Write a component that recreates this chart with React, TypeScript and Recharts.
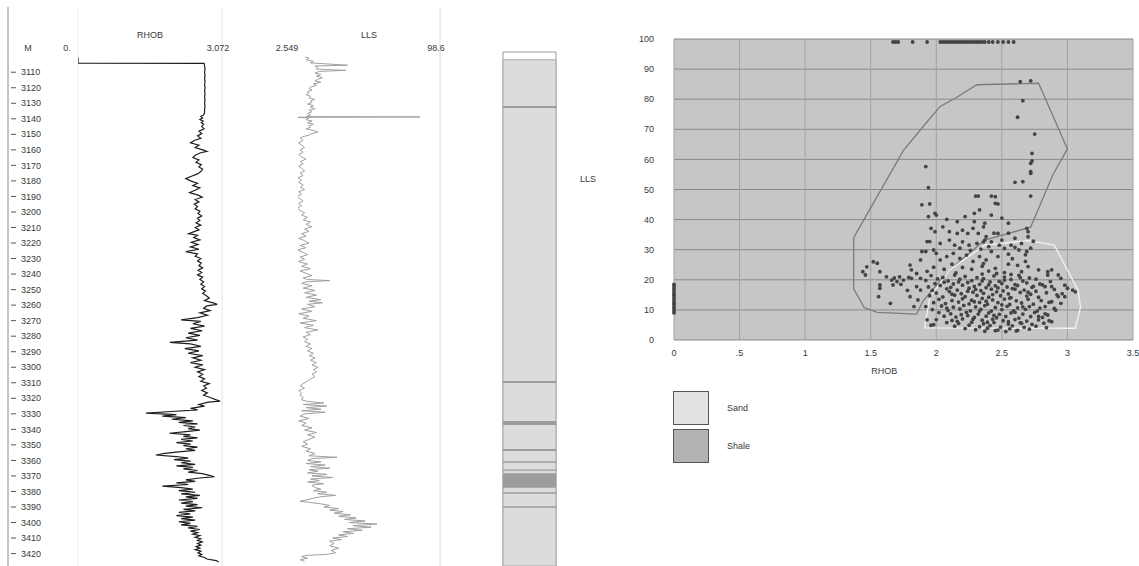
import React from 'react';
import {
  ScatterChart,
  Scatter,
  XAxis,
  YAxis,
  CartesianGrid,
  ReferenceArea,
  ReferenceLine,
} from 'recharts';

const FONT = '"Liberation Sans", Arial, sans-serif';
const TXT = '#3a3a3a';

// ---- depth window shared by every log track ----
const depthDomain: [number, number] = [3068, 3428];
const depthTicks = [
  3110, 3120, 3130, 3140, 3150, 3160, 3170, 3180, 3190, 3200, 3210, 3220, 3230, 3240, 3250, 3260,
  3270, 3280, 3290, 3300, 3310, 3320, 3330, 3340, 3350, 3360, 3370, 3380, 3390, 3400, 3410, 3420,
];

// ---- RHOB log: [depth m, g/cc] ----
const rhobRange: [number, number] = [0, 3.072];
const rhobLog: [number, number][] = [
  [3100.5, 0], [3104.2, 0], [3104.3, 2.69], [3106, 2.7], [3108, 2.71], [3110, 2.7], [3112, 2.71], [3114, 2.7],
  [3116, 2.71], [3118, 2.7], [3120, 2.71], [3122, 2.7], [3124, 2.71], [3126, 2.7], [3128, 2.71], [3130, 2.7],
  [3132, 2.71], [3134, 2.7], [3136, 2.7], [3137.5, 2.68], [3138.5, 2.62], [3139.5, 2.66], [3140.5, 2.6],
  [3141.5, 2.67], [3142.5, 2.63], [3143.5, 2.68], [3145, 2.64], [3146.5, 2.69], [3148, 2.58], [3149.5, 2.64],
  [3151, 2.55], [3152.5, 2.62], [3154, 2.48], [3155.5, 2.4], [3157, 2.58], [3158.5, 2.5], [3160, 2.66],
  [3161, 2.75], [3162, 2.6], [3163.5, 2.5], [3165, 2.45], [3166.5, 2.58], [3168, 2.52], [3169.5, 2.63],
  [3171, 2.58], [3172.5, 2.66], [3174, 2.62], [3175.5, 2.55], [3177, 2.42], [3178.5, 2.3], [3180, 2.4],
  [3181.5, 2.55], [3183, 2.45], [3184.5, 2.6], [3186, 2.5], [3187.5, 2.38], [3189, 2.55], [3190.5, 2.65],
  [3192, 2.5], [3193.5, 2.58], [3195, 2.48], [3196.5, 2.55], [3198, 2.5], [3199.5, 2.6], [3201, 2.56],
  [3202.5, 2.64], [3204, 2.55], [3205.5, 2.6], [3207, 2.52], [3208.5, 2.62], [3210, 2.5], [3211.5, 2.58],
  [3213, 2.45], [3214, 2.36], [3215, 2.55], [3216.5, 2.47], [3218, 2.6], [3219.5, 2.42], [3221, 2.56],
  [3222.5, 2.4], [3224, 2.58], [3225.5, 2.3], [3227, 2.55], [3228.5, 2.5], [3230, 2.62], [3231.5, 2.55],
  [3233, 2.63], [3234.5, 2.58], [3236, 2.66], [3237.5, 2.56], [3239, 2.64], [3240.5, 2.55], [3242, 2.66],
  [3243.5, 2.6], [3245, 2.68], [3246.5, 2.62], [3248, 2.7], [3249.5, 2.64], [3251, 2.72], [3252.5, 2.66],
  [3254, 2.74], [3255.5, 2.8], [3257, 2.7], [3258.5, 2.88], [3259.5, 2.97], [3260.5, 2.75], [3262, 2.68],
  [3263.5, 2.82], [3265, 2.6], [3266.5, 2.76], [3268, 2.55], [3269.5, 2.2], [3270.5, 2.62], [3272, 2.45],
  [3273.5, 2.7], [3275, 2.4], [3276.5, 2.65], [3278, 2.35], [3279.5, 2.6], [3281, 2.3], [3282.5, 2.55],
  [3284, 1.96], [3285, 2.4], [3286.5, 2.62], [3288, 2.28], [3289.5, 2.58], [3291, 2.35], [3292.5, 2.66],
  [3294, 2.45], [3295.5, 2.62], [3297, 2.4], [3298.5, 2.66], [3300, 2.5], [3301.5, 2.7], [3303, 2.55],
  [3304.5, 2.66], [3306, 2.58], [3307.5, 2.7], [3309, 2.62], [3310.5, 2.8], [3312, 2.68], [3313.5, 2.74],
  [3315, 2.64], [3316.5, 2.76], [3318, 2.68], [3319.5, 2.82], [3321, 2.95], [3321.8, 3.03], [3322.5, 2.78],
  [3324, 2.58], [3325, 2.7], [3326.5, 2.4], [3327.5, 2.55], [3328.5, 2.0], [3329.5, 1.45], [3330.5, 2.1],
  [3331.5, 1.8], [3332.5, 2.3], [3333.5, 2.0], [3334.5, 2.45], [3335.5, 2.15], [3336.5, 2.55], [3337.5, 2.25],
  [3338.5, 2.5], [3339.5, 2.35], [3340.5, 2.6], [3341.5, 2.3], [3342.5, 1.95], [3343.5, 2.4], [3344.5, 2.25],
  [3345.5, 2.55], [3346.5, 2.2], [3347.5, 2.45], [3348.5, 2.1], [3349.5, 2.4], [3350.5, 2.25], [3351.5, 2.55],
  [3352.5, 2.3], [3353.5, 2.5], [3354.5, 2.15], [3355.5, 1.85], [3356.5, 1.66], [3357.5, 2.1], [3358.5, 2.35],
  [3359.5, 2.05], [3360.5, 2.4], [3361.5, 2.2], [3362.5, 2.5], [3363.5, 2.1], [3364.5, 2.45], [3365.5, 2.25],
  [3366.5, 2.55], [3367.5, 2.35], [3368.5, 2.65], [3369.5, 2.78], [3370.5, 2.91], [3371.5, 2.55],
  [3372.5, 2.3], [3373.5, 2.5], [3374.5, 2.1], [3375.5, 2.35], [3376.5, 1.8], [3377.5, 2.2], [3378.5, 2.45],
  [3379.5, 2.15], [3380.5, 2.5], [3381.5, 2.2], [3382.5, 2.6], [3383.5, 2.3], [3384.5, 2.55], [3385.5, 2.15],
  [3386.5, 2.45], [3387.5, 2.2], [3388.5, 2.55], [3389.5, 2.3], [3390.5, 2.65], [3391.5, 2.25], [3392.5, 2.5],
  [3393.5, 2.15], [3394.5, 2.4], [3395.5, 2.1], [3396.5, 2.45], [3397.5, 2.2], [3398.5, 2.5], [3399.5, 2.15],
  [3400.5, 2.4], [3401.5, 2.2], [3402.5, 2.55], [3403.5, 2.35], [3404.5, 2.6], [3405.5, 2.4], [3406.5, 2.55],
  [3407.5, 2.45], [3408.5, 2.6], [3409.5, 2.5], [3410.5, 2.62], [3411.5, 2.55], [3412.5, 2.65], [3413.5, 2.55],
  [3414.5, 2.62], [3415.5, 2.52], [3416.5, 2.6], [3417.5, 2.5], [3418.5, 2.62], [3419.5, 2.56], [3420.5, 2.64],
  [3421.5, 2.58], [3422.5, 2.7], [3423.5, 2.75], [3424.5, 2.95], [3425.5, 3.0],
];

// ---- LLS log: [depth m, ohm.m] ----
const llsRange: [number, number] = [2.549, 98.6];
const llsLog: [number, number][] = [
  [3100.2, 7.3], [3101, 10], [3102, 8], [3103, 13], [3104, 11], [3105.5, 36], [3106, 14], [3107, 16],
  [3108, 15], [3108.8, 35], [3109.5, 17], [3110.5, 14], [3111.5, 18], [3112.5, 15], [3113.5, 19], [3114.5, 16],
  [3115.5, 14], [3116.5, 18], [3117.5, 13], [3118.5, 15], [3119.5, 11], [3120.5, 10], [3121.5, 12], [3122.5, 9],
  [3123.5, 10], [3124.5, 8], [3125.5, 11], [3126.5, 10], [3127.5, 14], [3128.5, 11], [3129.5, 12], [3130.5, 9],
  [3131.5, 13], [3132.5, 11], [3133.5, 14], [3134.5, 10], [3135.5, 12], [3136.5, 9], [3137.5, 11], [3138.6, 8],
  [3138.8, 85], [3139, 2], [3139.5, 10], [3140.5, 8], [3141.5, 12], [3142.5, 9], [3143.5, 13], [3144.5, 10],
  [3145.5, 11], [3146.5, 8], [3147.5, 13], [3148.5, 16], [3149.5, 12], [3150.5, 10], [3151.5, 6], [3152.5, 4],
  [3154, 6], [3155.5, 3], [3157, 5], [3158.5, 7], [3160, 4], [3161.5, 6], [3163, 3], [3164.5, 5], [3166, 8],
  [3167.5, 4], [3169, 6], [3170.5, 3], [3172, 5], [3173.5, 7], [3175, 4], [3176.5, 6], [3178, 2.5],
  [3179.5, 5], [3181, 3], [3182.5, 6], [3184, 4], [3185.5, 7], [3187, 3], [3188.5, 5], [3190, 2], [3191.5, 4],
  [3193, 6], [3194.5, 3], [3196, 5], [3197.5, 2], [3199, 4], [3200.5, 7], [3202, 5], [3203.5, 9], [3205, 6],
  [3206.5, 11], [3208, 8], [3209.5, 12], [3211, 7], [3212.5, 10], [3214, 5], [3215.5, 8], [3217, 3],
  [3218.5, 7], [3220, 10], [3221.5, 4], [3223, 8], [3224.5, 2], [3226, 6], [3227.5, 9], [3229, 4],
  [3230.5, 7], [3232, 3], [3233.5, 9], [3235, 5], [3236.5, 11], [3238, 4], [3239.5, 8], [3241, 12],
  [3242.5, 6], [3243.5, 9], [3244.2, 24], [3245, 8], [3246, 5], [3247.5, 12], [3249, 6], [3250.5, 14],
  [3252, 7], [3253.5, 15], [3255, 8], [3256.5, 18], [3257.5, 10], [3258.5, 19], [3259.5, 9], [3261, 14],
  [3262.5, 5], [3264, 12], [3265.5, 3], [3267, 10], [3268.5, 6], [3270, 15], [3271.5, 4], [3273, 13],
  [3274.5, 7], [3276, 16], [3277.5, 8], [3279, 11], [3280.5, 6], [3282, 9], [3283.5, 7], [3285, 11],
  [3286.5, 8], [3288, 12], [3289.5, 9], [3291, 13], [3292.5, 10], [3294, 14], [3295.5, 11], [3297, 15],
  [3298.5, 12], [3300, 16], [3301.5, 13], [3303, 15], [3304.5, 12], [3306, 14], [3307.5, 11], [3309, 9],
  [3310.5, 6], [3312, 4], [3313.5, 7], [3315, 3], [3316.5, 5], [3318, 4], [3319.5, 6], [3321, 5], [3322, 9],
  [3323, 20], [3324, 6], [3325, 22], [3326, 8], [3327, 18], [3328, 5], [3329, 21], [3330, 7], [3331.5, 4],
  [3333, 10], [3334.5, 3], [3336, 8], [3337.5, 5], [3339, 12], [3340.5, 7], [3342, 15], [3343.5, 9],
  [3345, 14], [3346.5, 10], [3348, 6], [3349.5, 9], [3351, 5], [3352.5, 11], [3354, 8], [3355.5, 14],
  [3357, 10], [3358, 29], [3358.8, 12], [3360, 9], [3361, 18], [3362, 8], [3363, 21], [3364, 11], [3365, 24],
  [3366, 10], [3367, 16], [3368, 9], [3369, 22], [3370, 12], [3371, 26], [3372, 11], [3373, 17], [3374, 9],
  [3375, 20], [3376, 12], [3377.5, 14], [3378.5, 18], [3379.5, 13], [3380.5, 22], [3381.5, 16], [3382.5, 28],
  [3383.5, 17], [3384.5, 12], [3385.5, 8], [3386.3, 4], [3387, 10], [3388, 18], [3389, 24], [3390, 20],
  [3391, 30], [3392, 24], [3393, 33], [3394, 27], [3395, 38], [3396, 30], [3397, 42], [3398, 34], [3399, 48],
  [3400, 37], [3401, 56], [3402, 40], [3403, 52], [3404, 36], [3405, 46], [3406, 33], [3407, 40], [3408, 30],
  [3409, 36], [3410, 26], [3411, 32], [3412, 24], [3413.5, 27], [3415, 24], [3416.5, 30], [3418, 25],
  [3419.5, 28], [3420.5, 22], [3421.2, 8], [3422, 5], [3423, 9], [3424, 4], [3425, 7],
];

// ---- lithology column: depth intervals ----
const lithoTop = 3097;
const lithoSandTop = 3102;
const shaleBeds: [number, number][] = [
  [3131.8, 3133.1], [3308.8, 3310.2], [3334.6, 3337.2], [3352.6, 3354], [3360.5, 3361.5], [3365.8, 3366.7],
  [3368.2, 3377.6], [3380.5, 3381.5], [3389.5, 3390.5],
];

// ---- RHOB / LLS crossplot ----
const xTicks = [0, 0.5, 1, 1.5, 2, 2.5, 3, 3.5];
const yTicks = [0, 10, 20, 30, 40, 50, 60, 70, 80, 90, 100];

const shaleZone: [number, number][] = [
  [1.37, 34], [1.37, 17], [1.45, 10.8], [1.55, 9.2], [1.85, 8.6], [1.9, 13], [2.1, 23.3], [2.37, 33.2],
  [2.72, 37.5], [2.89, 55], [3.0, 63.5], [2.78, 85.3], [2.31, 84.8], [2.15, 80.5], [2.03, 77.6],
  [1.93, 72.5], [1.75, 63], [1.37, 34],
];
const sandZone: [number, number][] = [
  [1.91, 4], [3.06, 3.9], [3.1, 11], [3.08, 16.6], [2.9, 31.5], [2.7, 33], [2.37, 31.5], [2.1, 23.3],
  [1.95, 14], [1.91, 4],
];

const crossPoints: [number, number][] = [
  // readings that hit the LLS ceiling
  [1.67, 99], [1.69, 99], [1.71, 99], [1.82, 99], [1.93, 99], [2.03, 99], [2.05, 99], [2.07, 99], [2.09, 99],
  [2.11, 99], [2.13, 99], [2.15, 99], [2.17, 99], [2.19, 99], [2.21, 99], [2.23, 99], [2.25, 99], [2.27, 99],
  [2.29, 99], [2.31, 99], [2.33, 99], [2.35, 99], [2.37, 99], [2.4, 99], [2.43, 99], [2.47, 99], [2.51, 99],
  [2.55, 99], [2.59, 99],
  // null RHOB samples
  [0, 9], [0, 9.6], [0, 10.3], [0, 11], [0, 11.8], [0, 12.5], [0, 13.3], [0, 14], [0, 14.8], [0, 15.5],
  [0, 16.3], [0, 17], [0, 17.8], [0, 18.5],
  // high-resistivity tail
  [2.64, 85.8], [2.72, 86.1], [2.66, 79.5], [2.62, 74], [2.75, 68.4], [2.73, 62], [2.73, 59.5], [2.72, 58.7],
  [2.72, 55.9], [2.72, 55.4], [2.6, 52.4], [2.66, 52.6], [1.92, 57.6], [1.94, 50.6], [2.3, 47.8], [2.32, 47.8],
  [2.42, 47.8], [2.45, 47.6], [2.72, 47.8], [2.45, 45.4], [2.47, 45.2],
  // 22 - 46
  [1.89, 44.9], [1.95, 45.2], [1.94, 41], [1.99, 42.1], [2.0, 41.5], [2.08, 40.1], [2.16, 39.3], [2.22, 41],
  [2.29, 42.1], [2.33, 43.2], [2.29, 39.3], [2.37, 38.8], [1.96, 37.1], [1.99, 36], [2.05, 37.6], [2.1, 36],
  [2.16, 35.4], [2.2, 36.5], [2.24, 35.4], [2.28, 37.1], [2.32, 35.4], [2.36, 37.6], [2.38, 34.3],
  [1.93, 32.7], [1.95, 32.7], [2.03, 32.1], [2.1, 33.2], [2.14, 31.5], [2.2, 32.6], [2.25, 31.5], [2.31, 32.1],
  [2.36, 32.6], [2.4, 31], [1.89, 29.4], [1.92, 29.4], [1.98, 29.9], [2.0, 28.8], [2.03, 26.6], [2.08, 27.7],
  [2.13, 28.8], [2.18, 27.1], [2.23, 28.2], [2.28, 26.1], [2.33, 27.7], [2.38, 26.6], [1.8, 24.9], [1.81, 23.3],
  [1.88, 26.6], [2.42, 41.5], [2.55, 38.8], [2.47, 35.4], [2.37, 33.2], [2.42, 32.6], [2.5, 33.2], [2.69, 37.1],
  [2.7, 36], [2.7, 34.3], [2.65, 32.1], [2.57, 31.5], [2.52, 30.4], [2.63, 29.9], [2.69, 29.4], [2.68, 28.3],
  [2.42, 29.4], [2.47, 27.7], [2.36, 25.4], [2.68, 26.1], [2.7, 24.4], [2.65, 22.7], [2.78, 23.3], [2.85, 22.7],
  [2.88, 23.3], [2.85, 21.6], [2.93, 21.6], [2.95, 20.5], [2.5, 40.5], [2.55, 35.5], [2.6, 33.8], [2.58, 27],
  [2.55, 25.2], [2.45, 23.8], [2.52, 22.4], [2.62, 24.8], [2.72, 30.5], [2.74, 32.8], [2.6, 30.8], [2.48, 31.5],
  [2.55, 28.5], [2.44, 35.5], [2.34, 30.2], [2.26, 29.8], [2.18, 30.5], [2.12, 25.2], [2.2, 24.1], [2.27, 23.5],
  [2.35, 24.5], [2.4, 22.9], [2.06, 23.5], [1.98, 24.2], [1.93, 22.8], [2.15, 22.3],
  // right flank
  [2.83, 17.7], [2.88, 17.7], [2.98, 18.2], [3.04, 16.6], [3.0, 17.2], [3.06, 16], [2.98, 14.4], [2.93, 14.4],
  [2.88, 12.7], [2.95, 12.2], [2.83, 11.1], [2.9, 10.5], [2.85, 8.3], [2.78, 7.8], [2.88, 6.1],
  // low-density group
  [1.52, 26], [1.55, 25.5], [1.47, 24.3], [1.44, 22.7], [1.46, 21.6], [1.57, 22.7], [1.62, 21], [1.66, 19.9],
  [1.67, 18.3], [1.7, 19.4], [1.72, 21], [1.75, 19.9], [1.79, 20.8], [1.57, 18.3], [1.57, 17.2], [1.56, 14.4],
  [1.65, 12.2], [1.81, 20.5], [1.85, 17.7], [1.8, 14.4], [1.88, 16.6], [1.85, 22.1], [1.88, 20.5], [1.68, 20.6],
  [1.73, 18.5], [1.83, 11.1], [1.78, 16.5], [1.86, 13.3], [1.92, 11.1], [1.93, 6.7], [1.98, 5.1],
  // main cloud
  [1.96, 21.4], [2.05, 20.8], [2.14, 21.6], [2.22, 21.1], [2.31, 20.7], [2.44, 21.3], [2.52, 20.9], [2.63, 21.5],
  [2.71, 20.6], [1.92, 19.8], [2.01, 20.3], [2.09, 19.6], [2.18, 20.2], [2.27, 19.7], [2.36, 20.4], [2.48, 19.5],
  [2.57, 20.1], [2.66, 19.6], [2.76, 20.2], [1.99, 18.7], [2.06, 19.2], [2.13, 18.6], [2.24, 19.1], [2.33, 18.5],
  [2.41, 19.3], [2.5, 18.8], [2.6, 18.4], [2.69, 19], [2.79, 18.6], [2.87, 19.4], [1.94, 17.6], [2.03, 18.1],
  [2.11, 17.5], [2.2, 18.2], [2.29, 17.8], [2.38, 17.4], [2.45, 18], [2.54, 17.6], [2.62, 18.1], [2.73, 17.5],
  [2.81, 18.3], [1.97, 16.5], [2.08, 17], [2.16, 16.6], [2.25, 17.2], [2.34, 16.4], [2.42, 16.9], [2.51, 16.3],
  [2.58, 17.1], [2.67, 16.6], [2.76, 16.2], [2.9, 16.8], [2.0, 15.6], [2.1, 16.1], [2.19, 15.4], [2.28, 15.9],
  [2.36, 15.5], [2.46, 16], [2.55, 15.3], [2.64, 15.8], [2.72, 15.2], [2.84, 15.7], [2.96, 15.4], [1.95, 14.7],
  [2.05, 14.3], [2.14, 14.9], [2.22, 14.4], [2.31, 14.8], [2.4, 14.2], [2.49, 14.7], [2.57, 14.1], [2.69, 14.6],
  [2.78, 14.2], [2.92, 15], [2.02, 13.5], [2.12, 13.1], [2.2, 13.7], [2.27, 13.2], [2.35, 13.8], [2.43, 13.3],
  [2.52, 13.6], [2.61, 13], [2.7, 13.5], [2.8, 13.1], [1.98, 12.4], [2.07, 12.1], [2.17, 12.6], [2.25, 12],
  [2.33, 12.5], [2.39, 11.9], [2.47, 12.4], [2.56, 11.8], [2.65, 12.3], [2.74, 11.9], [2.86, 12.5], [2.04, 11.3],
  [2.13, 10.9], [2.21, 11.5], [2.3, 11], [2.37, 11.4], [2.45, 10.8], [2.54, 11.2], [2.62, 10.7], [2.71, 11.1],
  [2.79, 10.6], [1.97, 10.1], [2.09, 9.8], [2.18, 10.3], [2.26, 9.7], [2.34, 10.2], [2.42, 9.6], [2.5, 10.1],
  [2.59, 9.7], [2.68, 10.2], [2.77, 9.6], [2.91, 9.9], [2.02, 9.1], [2.11, 8.7], [2.23, 9.2], [2.32, 8.6],
  [2.4, 9], [2.48, 8.5], [2.57, 9], [2.66, 8.6], [2.75, 9.1], [2.83, 8.7], [2.06, 7.9], [2.15, 7.6], [2.24, 8.1],
  [2.29, 7.5], [2.38, 7.9], [2.46, 7.4], [2.53, 7.8], [2.63, 7.3], [2.72, 7.8], [2.81, 7.5], [2.0, 6.8],
  [2.12, 6.5], [2.2, 7], [2.35, 6.6], [2.43, 6.9], [2.51, 6.4], [2.6, 6.8], [2.69, 6.3], [2.78, 6.7], [2.86, 6.4],
  [2.08, 5.8], [2.17, 5.5], [2.27, 5.9], [2.36, 5.4], [2.44, 5.8], [2.55, 5.3], [2.64, 5.7], [2.73, 5.2],
  [2.82, 5.6], [1.96, 4.9], [2.14, 4.6], [2.25, 4.9], [2.33, 4.4], [2.41, 4.8], [2.49, 4.3], [2.58, 4.7],
  [2.67, 4.2], [2.76, 4.6], [2.22, 3.8], [2.3, 3.4], [2.39, 3.9], [2.47, 3.3], [2.56, 3.7], [2.62, 3.2],
  [2.71, 3.6], [2.84, 4.1], [2.37, 2.9], [2.45, 3.1], [2.53, 2.8], [2.61, 3.0], [2.24, 16.2], [2.4, 18.3],
  [2.35, 19.6], [2.52, 19.9], [2.47, 17.3], [2.6, 16.9], [2.43, 15.1], [2.3, 16.8], [2.17, 19.3], [2.56, 13.9],
  [2.38, 12.9], [2.29, 12.7], [2.5, 11.7], [2.66, 11], [2.6, 9.2], [2.44, 8.2], [2.33, 9.6], [2.19, 8.4],
  [2.55, 6.1], [2.39, 5.9], [2.28, 6.9], [2.65, 5.6], [2.7, 15.9], [2.74, 17.8], [2.64, 20.7], [2.57, 21.8],
  [2.35, 21.9], [2.46, 22.1], [2.12, 15.2], [2.08, 10.6], [2.16, 6.2],
];

const legendItems = [
  { name: 'Sand', fill: '#e2e2e2' },
  { name: 'Shale', fill: '#b2b2b2' },
];

// ---- helpers ----
const logRows = (rows: [number, number][]) => rows.map(([d, v]) => ({ d, v }));
const xyRows = (rows: [number, number][]) => rows.map(([x, y]) => ({ x, y }));
const bedRows = (rows: [number, number][]) => rows.map(([a]) => ({ x: 0.5, d: a }));
const noMark = () => <g />;

const DepthTick = (props: any) => {
  const { x, y, payload } = props;
  return (
    <g>
      <line x1={x + 3} x2={x + 8} y1={y} y2={y} stroke="#555" strokeWidth={1} />
      <text x={x + 13} y={y} dy="0.35em" fontSize={9} fill={TXT} fontFamily={FONT}>
        {payload.value}
      </text>
    </g>
  );
};

const makeHeaderTick = (labels: string[]) => (props: any) => {
  const { x, y, index } = props;
  const first = index === 0;
  return (
    <text
      x={first ? x - 11 : x - 4}
      y={y + 44}
      textAnchor="middle"
      fontSize={9}
      fill={TXT}
      fontFamily={FONT}
    >
      {labels[index]}
    </text>
  );
};

const makeTitle = (title: string) => (props: any) => {
  const vb = props.viewBox || {};
  return (
    <text
      x={vb.x + vb.width / 2}
      y={38}
      textAnchor="middle"
      fontSize={9}
      fill={TXT}
      fontFamily={FONT}
    >
      {title}
    </text>
  );
};

const Dot = (props: any) => <circle cx={props.cx} cy={props.cy} r={1.9} fill="#444" />;

const fmtX = (v: number) => (v === 0.5 ? '.5' : String(v));

export default function App() {
  return (
    <div
      style={{
        position: 'absolute',
        left: 0,
        top: 0,
        width: 1139,
        height: 566,
        background: '#ffffff',
        overflow: 'hidden',
        fontFamily: FONT,
      }}
    >
      {/* depth scale */}
      <div style={{ position: 'absolute', left: 0, top: 0 }}>
        <ScatterChart width={60} height={566} margin={{ top: 7, right: 0, bottom: 0, left: 0 }}>
          <XAxis type="number" dataKey="x" domain={[0, 1]} hide />
          <YAxis
            type="number"
            dataKey="d"
            orientation="right"
            width={52}
            domain={depthDomain}
            reversed
            allowDataOverflow
            ticks={depthTicks}
            interval={0}
            tickSize={0}
            tickMargin={0}
            tickLine={false}
            axisLine={{ stroke: '#8a8a8a' }}
            tick={<DepthTick />}
            label={{
              content: () => (
                <text x={28} y={51} textAnchor="middle" fontSize={9} fill={TXT} fontFamily={FONT}>
                  M
                </text>
              ),
            }}
          />
        </ScatterChart>
      </div>

      {/* RHOB track */}
      <div style={{ position: 'absolute', left: 0, top: 0 }}>
        <ScatterChart width={240} height={566} margin={{ top: 0, right: 18, bottom: 0, left: 78 }}>
          <XAxis
            type="number"
            dataKey="v"
            orientation="top"
            height={7}
            domain={rhobRange}
            allowDataOverflow
            ticks={rhobRange}
            interval={0}
            tickSize={0}
            tickMargin={0}
            axisLine={false}
            tickLine={false}
            tick={makeHeaderTick(['0.', '3.072'])}
            label={{ content: makeTitle('RHOB') }}
          />
          <YAxis type="number" dataKey="d" domain={depthDomain} reversed allowDataOverflow hide />
          <ReferenceLine x={0} stroke="#f0f0f0" />
          <ReferenceLine x={3.072} stroke="#e4e4e4" />
          <Scatter
            data={logRows(rhobLog)}
            line={{ stroke: '#1e1e1e', strokeWidth: 1.2 }}
            lineType="joint"
            shape={noMark}
            isAnimationActive={false}
          />
        </ScatterChart>
      </div>

      {/* LLS track */}
      <div style={{ position: 'absolute', left: 0, top: 0 }}>
        <ScatterChart width={460} height={566} margin={{ top: 0, right: 20, bottom: 0, left: 298 }}>
          <XAxis
            type="number"
            dataKey="v"
            orientation="top"
            height={7}
            domain={llsRange}
            allowDataOverflow
            ticks={llsRange}
            interval={0}
            tickSize={0}
            tickMargin={0}
            axisLine={false}
            tickLine={false}
            tick={makeHeaderTick(['2.549', '98.6'])}
            label={{ content: makeTitle('LLS') }}
          />
          <YAxis type="number" dataKey="d" domain={depthDomain} reversed allowDataOverflow hide />
          <ReferenceLine x={98.6} stroke="#d8d8d8" />
          <Scatter
            data={logRows(llsLog)}
            line={{ stroke: '#a0a0a0', strokeWidth: 1 }}
            lineType="joint"
            shape={noMark}
            isAnimationActive={false}
          />
        </ScatterChart>
      </div>

      {/* lithology column */}
      <div style={{ position: 'absolute', left: 0, top: 0 }}>
        <ScatterChart width={600} height={566} margin={{ top: 7, right: 44, bottom: 0, left: 503 }}>
          <XAxis type="number" dataKey="x" domain={[0, 1]} allowDataOverflow hide />
          <YAxis type="number" dataKey="d" domain={depthDomain} reversed allowDataOverflow hide />
          <ReferenceArea
            x1={0}
            x2={1}
            y1={lithoTop}
            y2={depthDomain[1]}
            fill="#ffffff"
            stroke="#9a9a9a"
            fillOpacity={1}
            ifOverflow="visible"
          />
          <ReferenceArea
            x1={0}
            x2={1}
            y1={lithoSandTop}
            y2={depthDomain[1]}
            fill="#dcdcdc"
            stroke="#a8a8a8"
            fillOpacity={1}
            ifOverflow="visible"
          />
          {shaleBeds.map(([a, b], i) => (
            <ReferenceArea
              key={i}
              x1={0}
              x2={1}
              y1={a}
              y2={b}
              fill="#9c9c9c"
              fillOpacity={1}
              stroke="none"
              ifOverflow="visible"
            />
          ))}
          <Scatter data={bedRows(shaleBeds)} shape={noMark} isAnimationActive={false} />
        </ScatterChart>
      </div>

      <div
        style={{
          position: 'absolute',
          left: 580,
          top: 174,
          fontSize: 9,
          color: TXT,
          fontFamily: FONT,
        }}
      >
        LLS
      </div>

      {/* RHOB vs LLS crossplot */}
      <div style={{ position: 'absolute', left: 620, top: 0 }}>
        <ScatterChart width={519} height={380} margin={{ top: 39, right: 6, bottom: 0, left: 0 }}>
          <CartesianGrid fill="#c6c6c6" stroke="#8a8a8a" vertical={false} />
          <CartesianGrid stroke="#a2a2a2" horizontal={false} />
          <XAxis
            type="number"
            dataKey="x"
            domain={[0, 3.5]}
            ticks={xTicks}
            interval={0}
            height={40}
            tickSize={0}
            tickMargin={10}
            axisLine={false}
            tickLine={false}
            tickFormatter={fmtX}
            tick={{ fontSize: 9, fill: TXT, fontFamily: FONT }}
            label={{
              content: (p: any) => {
                const vb = p.viewBox || {};
                return (
                  <text
                    x={vb.x + vb.width * 0.458}
                    y={vb.y + 34}
                    textAnchor="middle"
                    fontSize={9}
                    fill={TXT}
                    fontFamily={FONT}
                  >
                    RHOB
                  </text>
                );
              },
            }}
          />
          <YAxis
            type="number"
            dataKey="y"
            domain={[0, 100]}
            ticks={yTicks}
            interval={0}
            width={54}
            tickSize={0}
            tickMargin={20}
            axisLine={false}
            tickLine={false}
            tick={{ fontSize: 9, fill: TXT, fontFamily: FONT }}
          />
          <Scatter
            data={xyRows(shaleZone)}
            line={{ stroke: '#7c7c7c', strokeWidth: 1.3 }}
            lineType="joint"
            shape={noMark}
            isAnimationActive={false}
          />
          <Scatter
            data={xyRows(sandZone)}
            line={{ stroke: '#f2f2f2', strokeWidth: 1.3 }}
            lineType="joint"
            shape={noMark}
            isAnimationActive={false}
          />
          <Scatter data={xyRows(crossPoints)} shape={<Dot />} isAnimationActive={false} />
        </ScatterChart>
      </div>

      {/* lithology legend */}
      <div style={{ position: 'absolute', left: 673, top: 391 }}>
        {legendItems.map((it) => (
          <div key={it.name} style={{ display: 'flex', alignItems: 'center', height: 34, marginBottom: 4 }}>
            <div
              style={{
                width: 34,
                height: 32,
                background: it.fill,
                border: '1px solid #555',
                boxSizing: 'content-box',
              }}
            />
            <span style={{ marginLeft: 18, fontSize: 9, color: TXT, fontFamily: FONT }}>{it.name}</span>
          </div>
        ))}
      </div>
    </div>
  );
}
